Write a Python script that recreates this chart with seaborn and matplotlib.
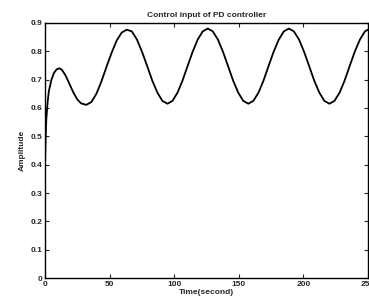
import numpy as np
import pandas as pd
import matplotlib
matplotlib.use("Agg")
import matplotlib.pyplot as plt
import seaborn as sns

# values
time_s = [
    0.0, 0.5, 1.0, 2.0, 3.0, 5.0, 7.0, 9.0, 11.0, 13.0, 16.0, 19.0, 22.0, 25.0, 28.0,
    32.0, 35.9, 39.8, 43.7, 47.6, 51.6, 55.5, 59.4, 63.3,
    67.2, 71.2, 75.1, 79.1, 83.0, 87.0, 90.9, 94.8,
    98.7, 102.6, 106.5, 110.4, 114.3, 118.2, 122.1, 126.0,
    129.9, 133.9, 137.8, 141.7, 145.6, 149.6, 153.5, 157.4,
    161.3, 165.3, 169.2, 173.1, 177.0, 181.0, 184.9, 188.8,
    192.7, 196.7, 200.6, 204.5, 208.4, 212.4, 216.3, 220.2,
    224.1, 228.1, 232.0, 235.9, 239.8, 243.8, 247.7, 251.6,
]
amplitude = [
    0.40, 0.50, 0.56, 0.62, 0.66, 0.700, 0.724, 0.736, 0.740, 0.735, 0.714, 0.684, 0.654, 0.630, 0.616,
    0.611, 0.621, 0.650, 0.694, 0.745, 0.795, 0.838, 0.866, 0.876,
    0.870, 0.841, 0.798, 0.748, 0.697, 0.654, 0.625, 0.615,
    0.625, 0.654, 0.697, 0.748, 0.798, 0.841, 0.870, 0.880,
    0.870, 0.841, 0.798, 0.748, 0.697, 0.654, 0.625, 0.615,
    0.625, 0.654, 0.697, 0.748, 0.798, 0.841, 0.870, 0.880,
    0.870, 0.841, 0.798, 0.748, 0.697, 0.654, 0.625, 0.615,
    0.625, 0.654, 0.697, 0.748, 0.798, 0.841, 0.870, 0.880,
]
x_ticks = [0, 50, 100, 150, 200, 250]
y_ticks = [0, 0.1, 0.2, 0.3, 0.4, 0.5, 0.6, 0.7, 0.8, 0.9]

df = pd.DataFrame({"Time": time_s, "Amplitude": amplitude})

sns.set_style("ticks")
plt.rcParams["font.family"] = ["Liberation Sans", "DejaVu Sans"]
plt.rcParams["font.weight"] = "bold"

fig = plt.figure(figsize=(3.69, 3.05), dpi=100)
ax = fig.add_axes([0.122, 0.088, 0.875, 0.837])
sns.lineplot(data=df, x="Time", y="Amplitude", color="black", linewidth=1.3, ax=ax)

ax.set_xlim(0, 250)
ax.set_ylim(0, 0.9)
ax.set_xticks(x_ticks)
ax.set_yticks(y_ticks)
ax.set_xticklabels([str(t) for t in x_ticks], fontsize=6, fontweight="bold")
ax.set_yticklabels(["0"] + [f"{v:.1f}" for v in y_ticks[1:]], fontsize=6, fontweight="bold")
ax.tick_params(direction="in", length=3, width=0.8, top=True, right=True, pad=2)
for s in ax.spines.values():
    s.set_linewidth(1.0)
    s.set_color("black")

ax.set_title("Control input of PD controller", fontsize=6, fontweight="bold", pad=4)
ax.set_xlabel("Time(second)", fontsize=6, fontweight="bold", labelpad=1)
ax.set_ylabel("Amplitude", fontsize=6, fontweight="bold", labelpad=3)

fig.savefig("out.png", dpi=100)
